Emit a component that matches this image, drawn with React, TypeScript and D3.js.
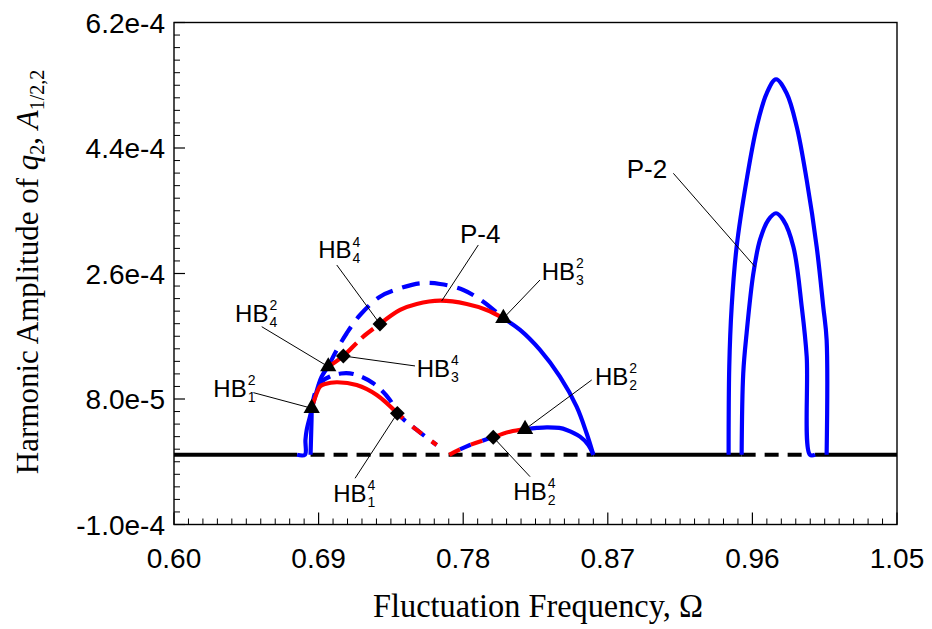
import React from "react";
import * as d3 from "d3";

// ---------- axes ----------
const xTicks = [0.6, 0.69, 0.78, 0.87, 0.96, 1.05];
const xTickLabels = ["0.60", "0.69", "0.78", "0.87", "0.96", "1.05"];
// amplitude values are in units of 1e-4
const yTicks = [-1.0, 0.8, 2.6, 4.4, 6.2];
const yTickLabels = ["-1.0e-4", "8.0e-5", "2.6e-4", "4.4e-4", "6.2e-4"];

// ---------- trivial solution (A = 0) ----------
const baselineSolid = [
  [0.6, 0.6766],
  [0.861, 0.9533],
  [0.999, 1.05],
];
const baselineDashed = [
  [0.685, 0.861],
  [0.9533, 0.9958],
];

// ---------- P-4 upper branch ----------
const upperBlueSolidA = [
  [0.6766, 0], [0.6815, 0], [0.6818, 0.21], [0.6826, 0.356], [0.6846, 0.546],
  [0.6878, 0.833], [0.6919, 1.12], [0.696, 1.264],
];
const upperBlueDashed = [
  [0.696, 1.264], [0.7013, 1.503], [0.7075, 1.743], [0.7158, 2.005], [0.7282, 2.268],
  [0.7407, 2.388], [0.7531, 2.46], [0.7656, 2.45], [0.7801, 2.364], [0.7925, 2.196],
  [0.805, 1.958],
];
const upperBlueSolidB = [
  [0.805, 1.958], [0.8154, 1.79], [0.8278, 1.503], [0.8402, 1.12], [0.8506, 0.69],
  [0.8568, 0.308], [0.861, 0],
];
const upperRedDashed = [
  [0.696, 1.264], [0.7054, 1.417], [0.7178, 1.694], [0.7282, 1.876],
];
const upperRedSolid = [
  [0.7282, 1.876], [0.7407, 2.077], [0.7511, 2.163], [0.7656, 2.21], [0.7822, 2.163],
  [0.7946, 2.077], [0.805, 1.958],
];

// ---------- P-4 lower branch ----------
const lowerBlueSolid = [
  [0.685, 0], [0.6853, 0.25], [0.6856, 0.5], [0.6857, 0.667],
];
const lowerRedSolid = [
  [0.6857, 0.667], [0.6888, 0.882], [0.6909, 0.98], [0.694, 1.015], [0.7013, 1.04],
  [0.7137, 1.001], [0.7262, 0.858], [0.739, 0.595],
];
const lowerBlueDashed = [
  [0.6857, 0.667], [0.688, 0.901], [0.6915, 1.044], [0.6971, 1.123], [0.7039, 1.166],
  [0.7116, 1.159], [0.724, 1.026], [0.7344, 0.786], [0.739, 0.595], [0.7511, 0.356],
  [0.7635, 0.141],
];
const lowerRedDashed = [
  [0.739, 0.595], [0.7511, 0.356], [0.7635, 0.141],
];

// ---------- right lower branch ----------
const rightMixedDashed = [
  [0.7713, 0], [0.7842, 0.141], [0.7987, 0.251],
];
const rightRedSolid = [
  [0.7987, 0.251], [0.8091, 0.331], [0.8185, 0.366],
];
const rightBlueSolid = [
  [0.8185, 0.366], [0.8258, 0.385], [0.832, 0.394], [0.8398, 0.385], [0.8444, 0.356],
  [0.8527, 0.26], [0.8579, 0.141], [0.861, 0],
];

// ---------- P-2 ----------
const p2Outer = [
  [0.9452, 0], [0.9456, 1.264], [0.9471, 2.124], [0.9502, 2.985], [0.9564, 3.941],
  [0.9627, 4.706], [0.9689, 5.185], [0.9747, 5.386], [0.9813, 5.185], [0.9876, 4.706],
  [0.9938, 3.941], [1.0, 2.985], [1.0041, 2.124], [1.0062, 1.647], [1.0062, 0],
];
const p2Inner = [
  [0.9533, 0], [0.9543, 1.169], [0.9564, 1.743], [0.9606, 2.603], [0.9647, 3.081],
  [0.9699, 3.368], [0.9747, 3.464], [0.9792, 3.368], [0.9855, 2.985], [0.9907, 2.124],
  [0.9938, 1.407], [0.9958, 0], [0.999, 0],
];

// ---------- bifurcation points ----------
const hb2Points = [
  [0.6857, 0.667], [0.696, 1.264], [0.805, 1.958], [0.8185, 0.366],
];
const hb4Points = [
  [0.739, 0.595], [0.7987, 0.251], [0.7054, 1.417], [0.7282, 1.876],
];

// ---------- annotations ----------
const annText = ["P-4", "HB", "HB", "HB", "HB", "HB", "HB", "HB", "HB", "P-2"];
const annSup = ["", "4", "2", "2", "4", "2", "2", "4", "4", ""];
const annSub = ["", "4", "4", "1", "3", "3", "2", "2", "1", ""];
const annPos = [
  [0.778, 3.034], [0.6898, 2.818], [0.638, 1.909], [0.6245, 0.833], [0.7511, 1.12],
  [0.8289, 2.507], [0.862, 1.001], [0.8112, -0.648], [0.6991, -0.673], [0.8818, 3.966],
];
const annFrom = [
  [0.7894, 3.009], [0.7013, 2.722], [0.6546, 1.837], [0.6494, 0.891], [0.75, 1.274],
  [0.8278, 2.507], [0.86, 1.073], [0.8216, -0.314], [0.7127, -0.337], [0.9108, 4.037],
];
const annTo = [
  [0.7666, 2.206], [0.7282, 1.876], [0.696, 1.264], [0.6857, 0.667], [0.7054, 1.417],
  [0.805, 1.958], [0.8185, 0.366], [0.7987, 0.251], [0.739, 0.595], [0.9616, 2.698],
];

const W = 932;
const H = 629;
const M = { left: 174, right: 897, top: 22.5, bottom: 524.5 };
const BLUE = "#0000ff";
const RED = "#ff0000";
const SANS = "'Liberation Sans', Arial, Helvetica, sans-serif";
const SERIF = "'Liberation Serif', 'Times New Roman', serif";

export default function App() {
  const x = d3.scaleLinear().domain([0.6, 1.05]).range([M.left, M.right]);
  const y = d3.scaleLinear().domain([-1.0, 6.2]).range([M.bottom, M.top]);
  const line = d3
    .line<number[]>()
    .x((d) => x(d[0]))
    .y((d) => y(d[1]))
    .curve(d3.curveCatmullRom.alpha(0.5));
  const straight = d3
    .line<number[]>()
    .x((d) => x(d[0]))
    .y((d) => y(d[1]));
  const triPath = d3.symbol().type(d3.symbolTriangle).size(115)() as string;
  const sqPath = d3.symbol().type(d3.symbolSquare).size(110)() as string;

  const xMinor = d3.range(0, 51).filter((i) => i % 10 !== 0).map((i) => 0.6 + i * 0.009);
  const yMinor = d3.range(0, 41).filter((i) => i % 10 !== 0).map((i) => -1.0 + i * 0.18);

  const curveDefs: { d: number[][]; c: string; dash?: string; off?: number }[] = [
    { d: upperBlueSolidA, c: BLUE },
    { d: upperBlueDashed, c: BLUE, dash: "18,10" },
    { d: upperBlueSolidB, c: BLUE },
    { d: upperRedDashed, c: RED, dash: "15,7" },
    { d: upperRedSolid, c: RED },
    { d: lowerBlueSolid, c: BLUE },
    { d: lowerBlueDashed, c: BLUE, dash: "15,9" },
    { d: lowerRedSolid, c: RED },
    { d: lowerRedDashed, c: RED, dash: "12,12", off: 4 },
    { d: rightMixedDashed, c: BLUE, dash: "12,12", off: 12 },
    { d: rightMixedDashed, c: RED, dash: "12,12", off: 0 },
    { d: rightRedSolid, c: RED },
    { d: rightBlueSolid, c: BLUE },
    { d: p2Outer, c: BLUE },
    { d: p2Inner, c: BLUE },
  ];

  const hbFont = 24;
  const hbWidth = hbFont * 1.389;

  return (
    <svg
      width={W}
      height={H}
      style={{ position: "absolute", left: 0, top: 0, background: "#fff" }}
    >
      <rect x={0} y={0} width={W} height={H} fill="#fff" />
      {/* frame */}
      <rect
        x={M.left}
        y={M.top}
        width={M.right - M.left}
        height={M.bottom - M.top}
        fill="none"
        stroke="#000"
        strokeWidth={1.4}
      />
      {/* x ticks */}
      {xTicks.map((t) => (
        <line key={"xt" + t} x1={x(t)} x2={x(t)} y1={M.bottom} y2={M.bottom - 12} stroke="#000" strokeWidth={1.2} />
      ))}
      {xMinor.map((t) => (
        <line key={"xm" + t} x1={x(t)} x2={x(t)} y1={M.bottom} y2={M.bottom - 6} stroke="#000" strokeWidth={1} />
      ))}
      {yTicks.map((t) => (
        <line key={"yt" + t} x1={M.left} x2={M.left + 11} y1={y(t)} y2={y(t)} stroke="#000" strokeWidth={1.2} />
      ))}
      {yMinor.map((t) => (
        <line key={"ym" + t} x1={M.left} x2={M.left + 6} y1={y(t)} y2={y(t)} stroke="#000" strokeWidth={1} />
      ))}
      {/* tick labels */}
      {xTicks.map((t, i) => (
        <text key={"xl" + t} x={x(t)} y={568} textAnchor="middle" fontFamily={SANS} fontSize={28} fill="#000">
          {xTickLabels[i]}
        </text>
      ))}
      {yTicks.map((t, i) => (
        <text key={"yl" + t} x={165} y={y(t)} dy="0.36em" textAnchor="end" fontFamily={SANS} fontSize={28} fill="#000">
          {yTickLabels[i]}
        </text>
      ))}
      {/* axis titles */}
      <text x={538} y={617} textAnchor="middle" fontFamily={SERIF} fontSize={33} textLength={330} lengthAdjust="spacingAndGlyphs" fill="#000">
        Fluctuation Frequency, Ω
      </text>
      <text
        transform={`translate(38, 272) rotate(-90)`}
        textAnchor="middle"
        fontFamily={SERIF}
        fontSize={31}
        fill="#000"
      >
        Harmonic Amplitude of <tspan fontStyle="italic">q</tspan>
        <tspan fontSize={20} dy={6}>2</tspan>
        <tspan dy={-6}>, </tspan>
        <tspan fontStyle="italic">A</tspan>
        <tspan fontSize={20} dy={6}>1/2,2</tspan>
      </text>

      {/* trivial solution */}
      {baselineSolid.map((s, i) => (
        <path key={"bs" + i} d={straight([[s[0], 0], [s[1], 0]]) as string} stroke="#000" strokeWidth={4} fill="none" />
      ))}
      {baselineDashed.map((s, i) => (
        <path
          key={"bd" + i}
          d={straight([[s[0], 0], [s[1], 0]]) as string}
          stroke="#000"
          strokeWidth={4}
          strokeDasharray="14,9"
          fill="none"
        />
      ))}

      {/* branches */}
      {curveDefs.map((c, i) => (
        <path
          key={"c" + i}
          d={line(c.d) as string}
          stroke={c.c}
          strokeWidth={4.2}
          fill="none"
          strokeDasharray={c.dash}
          strokeDashoffset={c.off}
          strokeLinejoin="round"
        />
      ))}

      {/* leader lines */}
      {annFrom.map((f, i) => (
        <line
          key={"ld" + i}
          x1={x(f[0])}
          y1={y(f[1])}
          x2={x(annTo[i][0])}
          y2={y(annTo[i][1])}
          stroke="#000"
          strokeWidth={1}
        />
      ))}

      {/* markers */}
      {hb2Points.map((p, i) => (
        <path key={"tr" + i} d={triPath} transform={`translate(${x(p[0])},${y(p[1])})`} fill="#000" />
      ))}
      {hb4Points.map((p, i) => (
        <path key={"dm" + i} d={sqPath} transform={`translate(${x(p[0])},${y(p[1])}) rotate(45)`} fill="#000" />
      ))}

      {/* annotation labels */}
      {annText.map((t, i) => {
        const px = x(annPos[i][0]);
        const py = y(annPos[i][1]);
        if (t !== "HB") {
          return (
            <text key={"an" + i} x={px} y={py} fontFamily={SANS} fontSize={26} fill="#000">
              {t}
            </text>
          );
        }
        return (
          <g key={"an" + i}>
            <text x={px} y={py} fontFamily={SANS} fontSize={hbFont} fill="#000">
              {t}
            </text>
            <text x={px + hbWidth + 1} y={py - 11.5} fontFamily={SANS} fontSize={14} fill="#000">
              {annSup[i]}
            </text>
            <text x={px + hbWidth + 1} y={py + 5} fontFamily={SANS} fontSize={14} fill="#000">
              {annSub[i]}
            </text>
          </g>
        );
      })}
    </svg>
  );
}
